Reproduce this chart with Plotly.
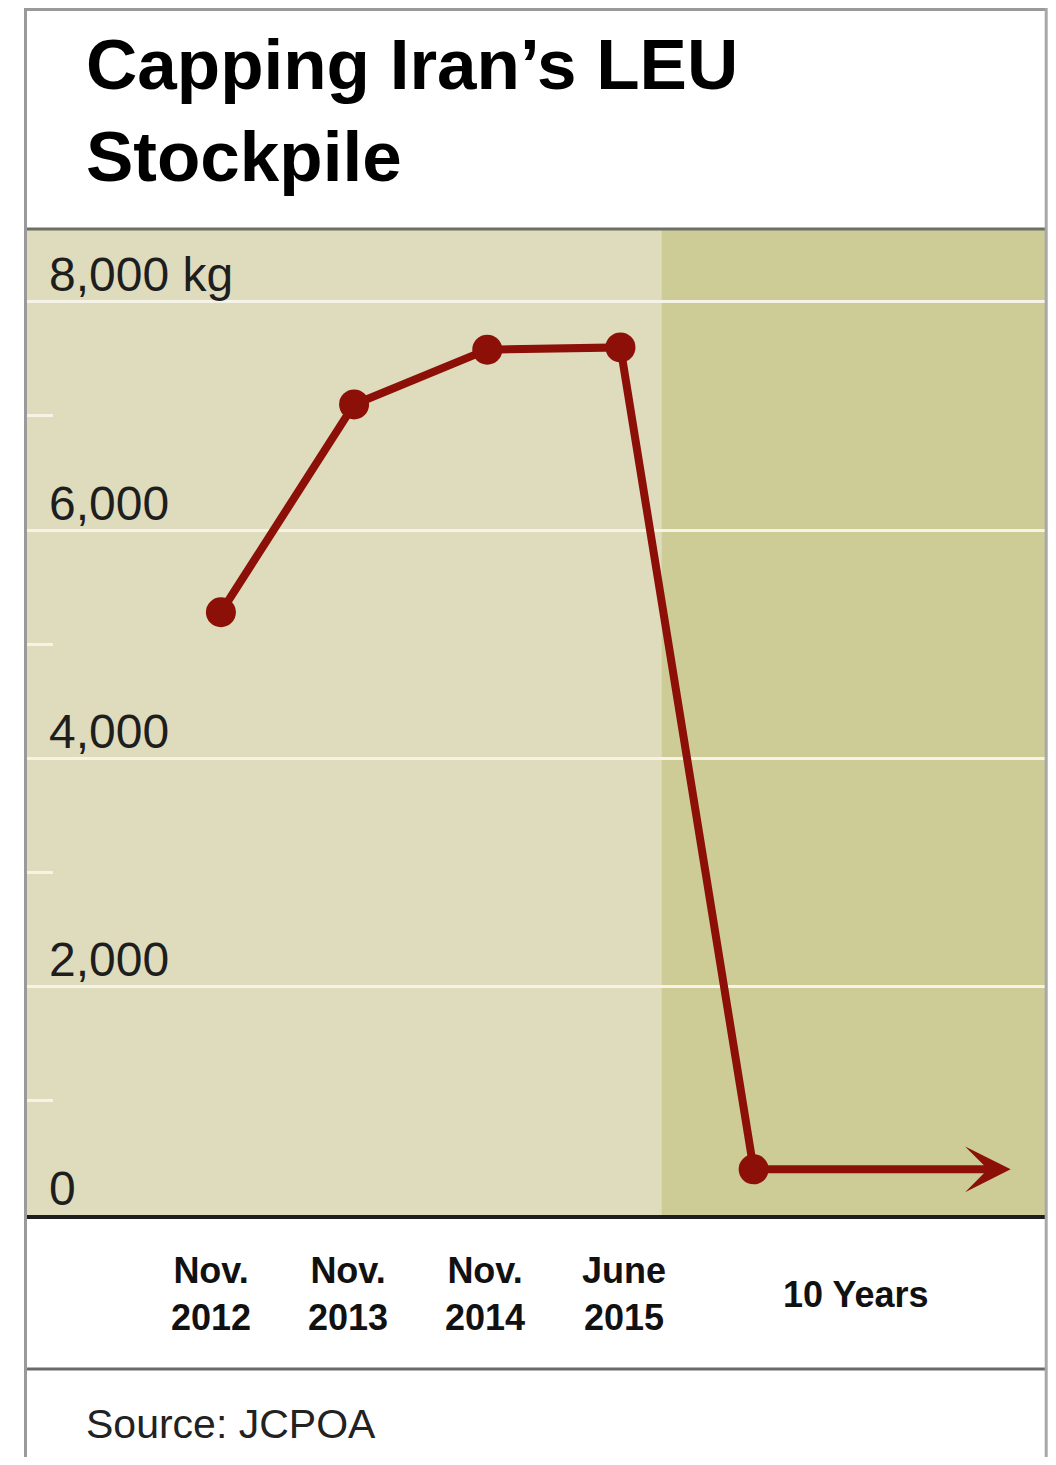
import plotly.graph_objects as go

# ---- data ----
period_labels = ["Nov.<br>2012", "Nov.<br>2013", "Nov.<br>2014", "June<br>2015", "10 Years"]
stockpile_kg = [5280, 7100, 7580, 7600, 400]
ytick_vals = [0, 2000, 4000, 6000, 8000]
ytick_text = ["0", "2,000", "4,000", "6,000", "8,000 kg"]
yminor_vals = [1000, 3000, 5000, 7000]

x_idx = list(range(len(stockpile_kg)))

# ---- layout geometry (page pixels; page body has an 8px margin all round) ----
OX, OY = 8, 8
W, H = 1056 - 2 * OX, 1465 - 2 * OY
PLOT_LEFT, PLOT_RIGHT, PLOT_TOP, PLOT_BOTTOM = 25, 1045.5, 229, 1215
L = PLOT_LEFT - OX
R = (OX + W) - PLOT_RIGHT
T = PLOT_TOP - OY
B = (OY + H) - PLOT_BOTTOM
plot_w = W - L - R
plot_h = H - T - B

def px(x):
    return (x - OX - L) / plot_w

def py(y):
    return (H - B - (y - OY)) / plot_h

# x axis: category positions 0..4, 133.25 px apart, first at page x 221
X_PER_PX = 1 / 133.25
X_RANGE = [(PLOT_LEFT - 221) * X_PER_PX, (PLOT_RIGHT - 221) * X_PER_PX]
Y_RANGE = [0, 8637]
SPLIT_X = 3.31      # start of the "10 years" shaded period
ARROW_END = 5.93

RED = "#8c1007"
LIGHT = "#dedcbd"
DARK = "#cdcc96"
FONT = "Liberation Sans"

fig = go.Figure()
fig.add_trace(go.Scatter(
    x=x_idx, y=stockpile_kg, mode="lines+markers",
    line=dict(color=RED, width=8),
    marker=dict(color=RED, size=30),
    hoverinfo="skip", showlegend=False, cliponaxis=False,
))

RIGHT_BORDER = PLOT_RIGHT + 1.2
shapes = [
    dict(type="rect", xref="x", yref="paper", x0=SPLIT_X, x1=X_RANGE[1], y0=0, y1=1,
         fillcolor=DARK, line=dict(width=0), layer="below"),
    dict(type="line", xref="paper", yref="paper", x0=px(25), x1=px(RIGHT_BORDER), y0=py(229), y1=py(229),
         line=dict(color="#6e6e68", width=3)),
    dict(type="line", xref="paper", yref="paper", x0=px(25), x1=px(RIGHT_BORDER), y0=py(1369), y1=py(1369),
         line=dict(color="#6a6a6a", width=3)),
    dict(type="line", xref="paper", yref="paper", x0=px(25), x1=px(RIGHT_BORDER), y0=py(9.5), y1=py(9.5),
         line=dict(color="#9a9a9a", width=3)),
    dict(type="line", xref="paper", yref="paper", x0=px(25.5), x1=px(25.5), y0=py(8), y1=py(1470),
         line=dict(color="#9a9a9a", width=3)),
    dict(type="line", xref="paper", yref="paper", x0=px(RIGHT_BORDER), x1=px(RIGHT_BORDER), y0=py(8), y1=py(1470),
         line=dict(color="#a8a8a8", width=3)),
]

annotations = []
annotations.append(dict(
    text="<b>Capping Iran’s LEU<br>Stockpile</b>", xref="paper", yref="paper",
    x=px(84), y=py(111), xanchor="left", yanchor="middle", align="left", showarrow=False,
    font=dict(family=FONT, size=71, color="#000000"),
))
for v, t in zip(ytick_vals, ytick_text):
    annotations.append(dict(
        text=t, xref="paper", yref="y", x=px(47), y=v, yshift=27,
        xanchor="left", yanchor="middle", showarrow=False,
        font=dict(family=FONT, size=48, color="#1e1e1e"),
    ))
label_x = x_idx[:-1] + [(SPLIT_X + (1050 - 221) * X_PER_PX) / 2]
label_nudge = [-10, -6, -2, 4, 0]
for xv, t, s in zip(label_x, period_labels, label_nudge):
    annotations.append(dict(
        text=f"<b>{t}</b>", xref="x", yref="paper", x=xv, xshift=s, y=py(1294),
        xanchor="center", yanchor="middle", align="center", showarrow=False,
        font=dict(family=FONT, size=36, color="#111111"),
    ))
annotations.append(dict(
    text="", xref="x", yref="y", x=ARROW_END, y=stockpile_kg[-1],
    axref="x", ayref="y", ax=x_idx[-1], ay=stockpile_kg[-1],
    showarrow=True, arrowhead=3, arrowsize=0.95, arrowwidth=8, arrowcolor=RED,
))
annotations.append(dict(
    text="Source: JCPOA", xref="paper", yref="paper", x=px(84), y=py(1424),
    xanchor="left", yanchor="middle", showarrow=False,
    font=dict(family=FONT, size=41, color="#222222"),
))

fig.update_layout(
    width=W, height=H, autosize=False,
    margin=dict(l=L, r=R, t=T, b=B, pad=0),
    paper_bgcolor="white", plot_bgcolor=LIGHT,
    shapes=shapes, annotations=annotations,
    xaxis=dict(range=X_RANGE, showgrid=False, zeroline=False, showticklabels=False,
               ticks="", showline=True, linecolor="#1e1e1e", linewidth=4, fixedrange=True),
    yaxis=dict(range=Y_RANGE, tickvals=ytick_vals[1:], showgrid=True, gridcolor="#f4f3e6",
               gridwidth=3, zeroline=False, showticklabels=False, ticks="", showline=False,
               minor=dict(tickvals=yminor_vals, ticks="inside", ticklen=28, tickwidth=3,
                          tickcolor="#f4f3e6", showgrid=False),
               fixedrange=True),
    showlegend=False,
)

fig.write_html("out.html")
